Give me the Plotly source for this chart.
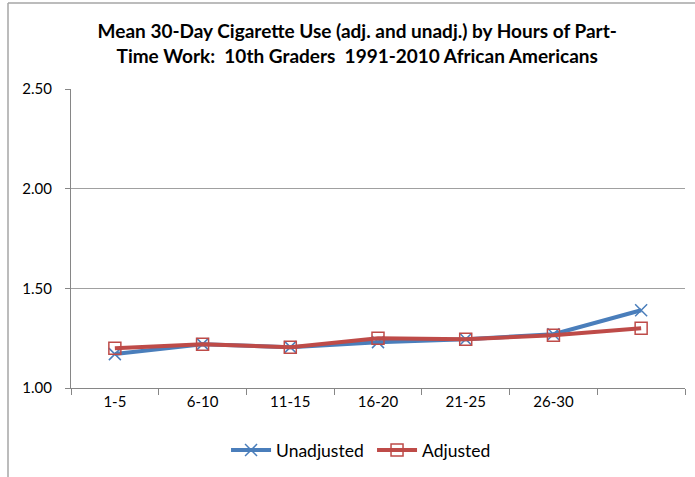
import plotly.graph_objects as go

categories = ["1-5", "6-10", "11-15", "16-20", "21-25", "26-30", ""]
unadjusted = [1.17, 1.22, 1.205, 1.23, 1.245, 1.27, 1.39]
adjusted = [1.20, 1.22, 1.205, 1.25, 1.245, 1.265, 1.30]
y_ticks = [1.0, 1.5, 2.0, 2.5]

xpos = list(range(len(categories)))
FONT = "Lato"

fig = go.Figure()
fig.add_trace(go.Scatter(
    x=xpos, y=unadjusted, name="Unadjusted", mode="lines+markers",
    line=dict(color="#4A7EBB", width=4),
    marker=dict(symbol="x-thin-open", size=12, color="#4A7EBB",
                line=dict(color="#4A7EBB", width=1.5)),
))
fig.add_trace(go.Scatter(
    x=xpos, y=adjusted, name="Adjusted", mode="lines+markers",
    line=dict(color="#BE4B48", width=4),
    marker=dict(symbol="square-open", size=12, color="#BE4B48",
                line=dict(color="#BE4B48", width=1.5)),
))

# outer chart frame (left and top edges visible)
fig.add_shape(type="line", xref="paper", yref="paper",
              x0=-0.1026, x1=-0.1026, y0=-0.5, y1=1.288,
              line=dict(color="#A6A6A6", width=1.5), layer="above")
fig.add_shape(type="line", xref="paper", yref="paper",
              x0=-0.1026, x1=1.3, y0=1.288, y1=1.288,
              line=dict(color="#A6A6A6", width=1.5), layer="above")

fig.update_layout(
    width=695, height=477,
    margin=dict(l=71, r=10, t=89, b=88),
    paper_bgcolor="white", plot_bgcolor="white",
    font=dict(family=FONT, size=15, color="black"),
    title=dict(
        text="<b>Mean 30-Day Cigarette Use (adj. and unadj.) by Hours of Part-<br>Time Work:  10th Graders  1991-2010 African Americans</b>",
        x=0.514, xref="container", xanchor="center",
        y=0.92, yref="container", yanchor="middle",
        font=dict(family=FONT, size=19, color="black"),
    ),
    showlegend=True,
    legend=dict(orientation="h", x=0.2525, xanchor="left", y=-0.204, yanchor="middle",
                font=dict(family=FONT, size=17.5), itemwidth=40,
                entrywidth=91, entrywidthmode="pixels"),
    xaxis=dict(
        range=[-0.5, len(categories) - 0.5],
        tickmode="array", tickvals=xpos, ticktext=categories,
        ticks="", showgrid=False, zeroline=False,
        showline=True, linecolor="#868686", linewidth=1,
        minor=dict(tickmode="array",
                   tickvals=[i - 0.5 for i in range(len(categories) + 1)],
                   ticks="outside", ticklen=6, tickcolor="#868686", showgrid=False),
        tickfont=dict(family=FONT, size=15),
    ),
    yaxis=dict(
        range=[1.0, 2.5], tickmode="array", tickvals=y_ticks,
        tickformat=".2f", ticks="outside", ticklen=5, tickcolor="#868686",
        showgrid=True, gridcolor="#A0A0A0", gridwidth=1, zeroline=False,
        showline=True, linecolor="#868686", linewidth=1,
        ticklabelstandoff=10,
        tickfont=dict(family=FONT, size=15),
    ),
)

fig.write_html("out.html", config={"displayModeBar": False},
               post_script="document.body.style.margin='0px';")
